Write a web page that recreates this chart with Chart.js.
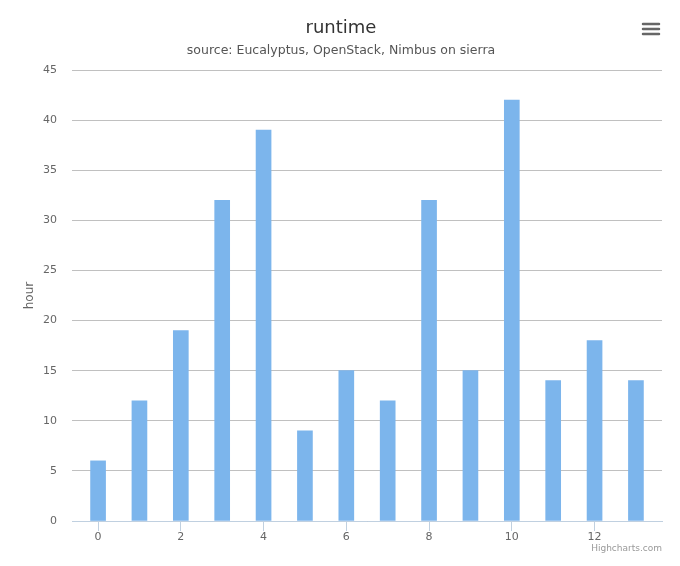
<!DOCTYPE html>
<html>
<head>
<meta charset="utf-8">
<script src="https://cdn.jsdelivr.net/npm/chart.js@4"></script>
<style>
  html, body { margin: 0; padding: 0; background: #fff; }
  #wrap { width: 680px; height: 566px; position: relative; }
</style>
</head>
<body>
<div id="wrap"><canvas id="runtimeChart"></canvas></div>
<script>
// runtime per index, in hours
const positions = [0, 1, 2, 3, 4, 5, 6, 7, 8, 9, 10, 11, 12, 13];
const runtimeHours = [6, 12, 19, 32, 39, 9, 15, 12, 32, 15, 42, 14, 18, 14];
const xTicks = [0, 2, 4, 6, 8, 10, 12];
const yTicks = [0, 5, 10, 15, 20, 25, 30, 35, 40, 45];

const FONT = '"DejaVu Sans", "Lucida Grande", Verdana, sans-serif';

// hamburger menu + credits, drawn like the highcharts ones
const extras = {
    id: 'extras',
    afterDraw(chart) {
        const ctx = chart.ctx;
        ctx.save();
        ctx.strokeStyle = '#666666';
        ctx.lineWidth = 2.5;
        ctx.lineCap = 'round';
        [24, 29, 34].forEach(y => {
            ctx.beginPath();
            ctx.moveTo(643, y);
            ctx.lineTo(659, y);
            ctx.stroke();
        });
        ctx.fillStyle = '#999999';
        ctx.font = '9px ' + FONT;
        ctx.textAlign = 'right';
        ctx.textBaseline = 'middle';
        ctx.fillText('Highcharts.com', 662, 549);
        ctx.restore();
    }
};

new Chart(document.getElementById('runtimeChart'), {
    type: 'bar',
    data: {
        datasets: [{
            label: 'runtime',
            data: positions.map((p, i) => ({ x: p, y: runtimeHours[i] })),
            backgroundColor: '#7cb5ec',
            borderWidth: 0,
            barThickness: 15
        }]
    },
    options: {
        responsive: true,
        maintainAspectRatio: false,
        animation: false,
        layout: { padding: { left: 20, right: 18, bottom: 0, top: 0 } },
        plugins: {
            legend: { display: false },
            tooltip: { enabled: false },
            title: {
                display: true,
                text: 'runtime',
                color: '#333333',
                font: { family: FONT, size: 18, weight: 'normal' },
                padding: { top: 18, bottom: 4 }
            },
            subtitle: {
                display: true,
                text: 'source: Eucalyptus, OpenStack, Nimbus on sierra',
                color: '#555555',
                font: { family: FONT, size: 12.5 },
                padding: { top: 0, bottom: 11.4 }
            }
        },
        scales: {
            x: {
                type: 'linear',
                offset: false,
                min: -0.63,
                max: 13.63,
                afterBuildTicks: axis => { axis.ticks = xTicks.map(v => ({ value: v })); },
                afterFit: axis => { axis.height = 45; },
                border: { color: '#c0d0e0', width: 1 },
                grid: {
                    offset: false,
                    drawOnChartArea: false,
                    drawTicks: true,
                    tickLength: 10,
                    color: '#c0d0e0'
                },
                ticks: {
                    padding: 0,
                    color: '#666666',
                    font: { family: FONT, size: 11 }
                }
            },
            y: {
                min: 0,
                max: 45,
                afterBuildTicks: axis => { axis.ticks = yTicks.map(v => ({ value: v })); },
                afterFit: axis => { axis.width = 52; },
                border: { display: false },
                grid: {
                    color: '#c0c0c0',
                    drawTicks: false
                },
                ticks: {
                    padding: 15,
                    color: '#666666',
                    font: { family: FONT, size: 11 }
                },
                title: {
                    display: true,
                    text: 'hour',
                    color: '#666666',
                    font: { family: FONT, size: 12 },
                    padding: { top: 3, bottom: 0 }
                }
            }
        }
    },
    plugins: [extras]
});
</script>
</body>
</html>
